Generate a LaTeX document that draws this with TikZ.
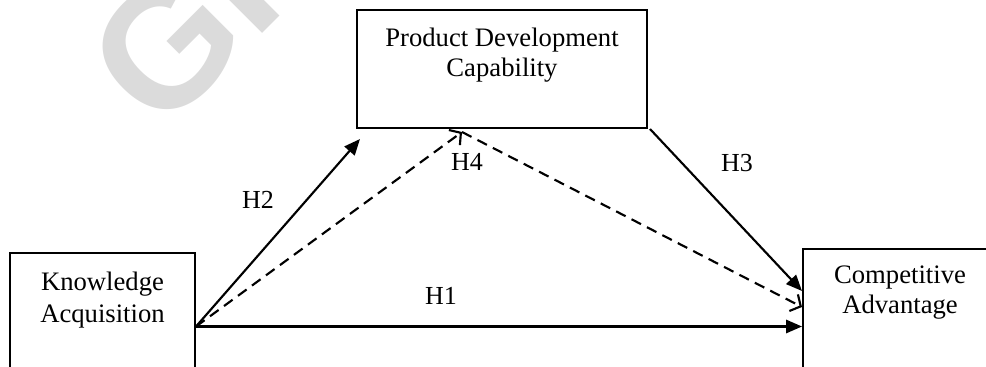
\documentclass[tikz,border=0pt]{standalone}
\usepackage{fontspec}
\setmainfont{Liberation Serif}
\newfontfamily\wmfont{Liberation Sans}
\usetikzlibrary{arrows.meta,calc}
\begin{document}
\begin{tikzpicture}[x=0.75pt,y=-0.75pt,
  box/.style={draw=black,line width=1.5pt,minimum width=#1,inner sep=0pt},
  txt/.style={font=\fontsize{20}{23}\selectfont,anchor=base,inner sep=0pt},
  lab/.style={font=\fontsize{19.5}{23}\selectfont,inner sep=0pt},
  solidarrow/.style={line width=1.6pt,-{Triangle[length=12pt,width=10pt]}},
  dasharrow/.style={line width=1.6pt,dash pattern=on 8pt off 5pt,-{Straight Barb[length=6pt,width=14pt,line width=1.6pt]}}]
\useasboundingbox (0,0) rectangle (986,367);
\clip (0,0) rectangle (986,367);
% watermark
\node[rotate=45,anchor=base west,inner sep=0pt,text=black!14,font=\wmfont\bfseries\fontsize{128}{128}\selectfont] (wm) at (160,136) {GRIN};
% boxes
\node[box=217.5pt,minimum height=88.5pt] (pdc) at (502,69) {};
\node[box=138.75pt,minimum height=110.25pt] (ka) at (102.5,326.5) {};
\node[box=145.5pt,minimum height=113.25pt] (ca) at (900,324.5) {};
% box texts
\node[txt] (pdc1) at (502,47) {Product Development};
\node[txt] (pdc2) at (502,77) {Capability};
\node[txt] (ka1) at (102.5,291) {Knowledge};
\node[txt] (ka2) at (102.5,322) {Acquisition};
\node[txt] (ca1) at (900,283) {Competitive};
\node[txt] (ca2) at (900,314) {Advantage};
% connectors
\coordinate (h2e) at ($(pdc.south west)+(4,10)$);
\coordinate (h3e) at ($(ca.north west)+(0,43)$);
\coordinate (h4t) at ($(pdc.south west)+(106,3)$);
\coordinate (h4e) at ($(ca.north west)+(0,59)$);
\draw[solidarrow] (ka.east) -- (ka.east -| ca.west);
\draw[solidarrow] (ka.east) -- (h2e);
\draw[solidarrow] ($(pdc.south east)+(2,0)$) -- (h3e);
\draw[dasharrow] (ka.east) -- (h4t);
\draw[dasharrow] (h4t) -- (h4e);
% labels
\node[lab] (H1) at (441,296) {H1};
\node[lab] (H2) at (258,200) {H2};
\node[lab] (H3) at (737,163) {H3};
\node[lab] (H4) at (467,162) {H4};
\end{tikzpicture}
\end{document}
